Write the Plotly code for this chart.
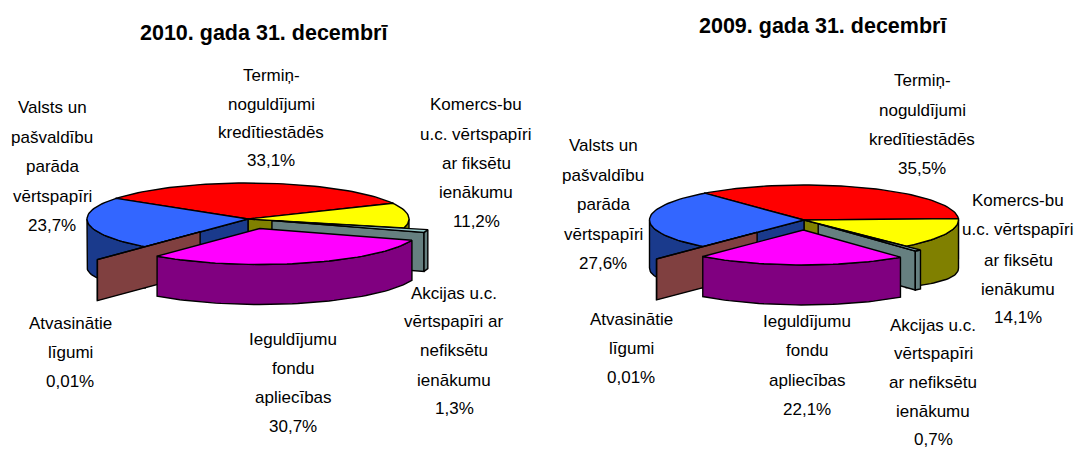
import math
import plotly.graph_objects as go

# data: order red, yellow, teal, magenta, brown, blue
labels_2010 = ["Termiņ-|noguldījumi|kredītiestādēs|33,1%", "Komercs-bu|u.c. vērtspapīri|ar fiksētu|ienākumu|11,2%", "Akcijas u.c.|vērtspapīri ar|nefiksētu|ienākumu|1,3%", "Ieguldījumu|fondu|apliecības|30,7%", "Atvasinātie|līgumi|0,01%", "Valsts un|pašvaldību|parāda|vērtspapīri|23,7%"]
labels_2009 = ["Termiņ-|noguldījumi|kredītiestādēs|35,5%", "Komercs-bu|u.c. vērtspapīri|ar fiksētu|ienākumu|14,1%", "Akcijas u.c.|vērtspapīri|ar nefiksētu|ienākumu|0,7%", "Ieguldījumu|fondu|apliecības|22,1%", "Atvasinātie|līgumi|0,01%", "Valsts un|pašvaldību|parāda|vērtspapīri|27,6%"]
values_2010 = [33.1, 11.2, 1.3, 30.7, 0.01, 23.7]
values_2009 = [35.5, 14.1, 0.7, 22.1, 0.01, 27.6]
top_colors = ["#FF0000", "#FFFF00", "#99CCCC", "#FF00FF", "#993333", "#3366FF"]
side_colors = ["#800000", "#808000", "#668080", "#800080", "#804040", "#1A3A8C"]
titles = ["2010. gada 31. decembrī", "2009. gada 31. decembrī"]

W, H = 1077, 450
FONT = "Liberation Sans"

geo_2010 = dict(cx=248, cy=219, rx=161, ry=36, start=-55, explode=[0, 0, 25, 44, 75, 0])
geo_2009 = dict(cx=804, cy=220, rx=154.5, ry=35, start=-40, explode=[0, 0, 22, 44, 72, 0])
depths = [40, 40, 39, 40, 41, 40]
edge_extra = [8, 8, 0, 0, 0, 8]
draw_order = [0, 1, 5, 2, 4, 3]

label_pos_2010 = [(271, [75, 104, 132, 160]), (476, [104, 134, 163, 192, 221]), (454, [293, 321, 350, 380, 408]),
                  (293, [339, 368, 397, 426]), (70, [323, 352, 381]), (52, [107, 137, 166, 196, 225])]
label_pos_2009 = [(922, [80, 110, 139, 168]), (1018, [200, 229, 260, 289, 317]), (933, [325, 353, 382, 411, 439]),
                  (807, [321, 350, 380, 409]), (631, [319, 348, 377]), (603, [145, 175, 204, 234, 263])]

fig = go.Figure()


def poly(xs, ys, fill):
    fig.add_trace(go.Scatter(x=xs, y=ys, mode="lines", fill="toself", fillcolor=fill,
                             line=dict(color="#000000", width=1.4), hoverinfo="skip", showlegend=False))


def arc(cx, cy, rx, ry, a0, a1):
    n = max(2, int(abs(a1 - a0) / 2) + 2)
    xs, ys, angs = [], [], []
    for i in range(n):
        a = math.radians(a0 + (a1 - a0) * i / (n - 1))
        xs.append(cx + rx * math.sin(a))
        ys.append(cy - ry * math.cos(a))
        angs.append(a)
    return xs, ys, angs


def draw(values, g):
    total = sum(values)
    rx, ry = g["rx"], g["ry"]
    slices = {}
    a = g["start"]
    for i, v in enumerate(values):
        b = a + v / total * 360
        mid = math.radians((a + b) / 2)
        ex = g["explode"][i]
        slices[i] = (a, b, g["cx"] + ex * math.sin(mid), g["cy"] - ex * ry / rx * math.cos(mid))
        a = b
    for i in draw_order:
        a, b, cx, cy = slices[i]
        d = depths[i]
        for ang, visible in ((a, math.sin(math.radians(a)) < 0), (b, math.sin(math.radians(b)) > 0)):
            if visible:
                x, y, _ = arc(cx, cy, rx, ry, ang, ang)
                poly([cx, x[0], x[0], cx, cx], [cy, y[0], y[0] + d, cy + d, cy], side_colors[i])
        lo, hi = max(a, 90), min(b, 270)
        if lo < hi:
            x, y, angs = arc(cx, cy, rx, ry, lo, hi)
            bottom = [v + d + edge_extra[i] * math.sin(t) ** 4 for v, t in zip(y, angs)]
            poly(x + x[::-1] + x[:1], y + bottom[::-1] + y[:1], side_colors[i])
        x, y, _ = arc(cx, cy, rx, ry, a, b)
        poly([cx] + x + [cx], [cy] + y + [cy], top_colors[i])


draw(values_2010, geo_2010)
draw(values_2009, geo_2009)

for lbls, pos in ((labels_2010, label_pos_2010), (labels_2009, label_pos_2009)):
    for t, (x, ys) in zip(lbls, pos):
        for line, y in zip(t.split("|"), ys):
            fig.add_annotation(x=x, y=y, text=line, showarrow=False, xanchor="center", yanchor="middle",
                               font=dict(family=FONT, size=17, color="#000000"))
fig.add_annotation(x=264, y=33, text="<b>" + titles[0] + "</b>", showarrow=False,
                   font=dict(family=FONT, size=21.5, color="#000000"))
fig.add_annotation(x=823, y=26, text="<b>" + titles[1] + "</b>", showarrow=False,
                   font=dict(family=FONT, size=21.5, color="#000000"))

fig.update_layout(width=W, height=H, margin=dict(l=0, r=0, t=0, b=0), paper_bgcolor="white",
                  plot_bgcolor="white", showlegend=False,
                  xaxis=dict(range=[0, W], visible=False, fixedrange=True),
                  yaxis=dict(range=[H, 0], visible=False, fixedrange=True))
fig.write_html("out.html", config={"displayModeBar": False},
               post_script="document.body.style.margin='0';document.documentElement.style.overflow='hidden';")
